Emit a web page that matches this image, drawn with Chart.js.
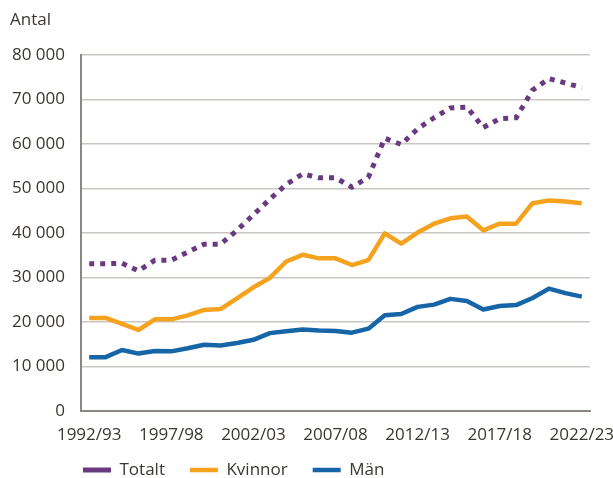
<!DOCTYPE html>
<html>
<head>
<meta charset="utf-8">
<script src="https://cdn.jsdelivr.net/npm/chart.js@4"></script>
<style>
  html, body { margin: 0; padding: 0; background: #ffffff; overflow: hidden; }
  #wrap { width: 613px; height: 478px; }
</style>
</head>
<body>
<div id="wrap"><canvas id="c" width="613" height="478"></canvas></div>
<script>
const categories = ['1992/93','1993/94','1994/95','1995/96','1996/97','1997/98','1998/99','1999/00','2000/01','2001/02',
  '2002/03','2003/04','2004/05','2005/06','2006/07','2007/08','2008/09','2009/10','2010/11','2011/12',
  '2012/13','2013/14','2014/15','2015/16','2016/17','2017/18','2018/19','2019/20','2020/21','2021/22','2022/23'];
const totalt = [33100, 33100, 33200, 31500, 33900, 33900, 35700, 37500, 37500, 40600,
  44100, 47600, 50900, 53300, 52400, 52400, 50300, 52500, 61300, 59900,
  63400, 65900, 68100, 68300, 63700, 65700, 65900, 72100, 74700, 73700, 72700];
const kvinnor = [20900, 20900, 19600, 18200, 20600, 20600, 21500, 22700, 22900, 25300,
  27800, 29900, 33600, 35100, 34300, 34300, 32800, 33900, 39900, 37600,
  40100, 42100, 43300, 43700, 40600, 42100, 42100, 46700, 47300, 47100, 46700];
const man = [12100, 12100, 13700, 12900, 13500, 13400, 14100, 14900, 14700, 15300,
  16000, 17500, 17900, 18300, 18100, 18000, 17600, 18500, 21500, 21800,
  23400, 23900, 25200, 24700, 22800, 23600, 23800, 25400, 27500, 26500, 25700];
const seriesNames = ['Totalt', 'Kvinnor', 'Män'];
const yTitle = 'Antal';
const yTicks = [0, 10000, 20000, 30000, 40000, 50000, 60000, 70000, 80000];

const TEXT = '#3b3631';
const FONT = "'Open Sans', sans-serif";
const LEGEND_PAD = 25;

const legendShift = {
  id: 'legendShift',
  beforeDraw(chart) {
    const lg = chart.legend;
    if (!lg) return;
    const dx = (83 - LEGEND_PAD) - lg.left;
    lg.left += dx; lg.right += dx;
    const dy = (470 - 8.5 - LEGEND_PAD) - lg.top;
    lg.top += dy; lg.bottom += dy;
  }
};

new Chart(document.getElementById('c'), {
  type: 'line',
  data: {
    labels: categories,
    datasets: [
      { label: seriesNames[0], data: totalt, borderColor: '#6a3a80', backgroundColor: '#6a3a80',
        borderWidth: 5, borderDash: [5, 6], borderCapStyle: 'butt', pointRadius: 0, tension: 0 },
      { label: seriesNames[1], data: kvinnor, borderColor: '#f5a31f', backgroundColor: '#f5a31f',
        borderWidth: 4.5, pointRadius: 0, tension: 0, borderJoinStyle: 'round' },
      { label: seriesNames[2], data: man, borderColor: '#1565a7', backgroundColor: '#1565a7',
        borderWidth: 4.5, pointRadius: 0, tension: 0, borderJoinStyle: 'round' }
    ]
  },
  options: {
    responsive: false,
    animation: false,
    layout: { padding: { left: 10, right: 0, top: 0, bottom: -21 } },
    plugins: {
      title: {
        display: true, text: yTitle, align: 'start', color: TEXT,
        font: { family: FONT, size: 17, weight: 'normal' },
        padding: { top: 10, bottom: 24.6 }
      },
      legend: {
        position: 'bottom', align: 'start',
        labels: {
          usePointStyle: true, pointStyle: 'line', pointStyleWidth: 28,
          color: TEXT, font: { family: FONT, size: 17 }, padding: LEGEND_PAD
        }
      },
      tooltip: { enabled: false }
    },
    scales: {
      x: {
        offset: true,
        grid: { display: false, drawTicks: false },
        border: { display: true, color: '#8c8782', width: 2 },
        afterFit(scale) { scale.height = 36; scale.paddingRight = 23; scale.paddingLeft = 0; },
        ticks: {
          autoSkip: false, maxRotation: 0, minRotation: 0, padding: 14,
          color: TEXT, font: { family: FONT, size: 17 },
          callback(v, i) { return i % 5 === 0 ? categories[i] : ''; }
        }
      },
      y: {
        min: 0, max: 80000,
        afterFit(scale) { scale.width = 71; },
        afterBuildTicks(scale) { scale.ticks = yTicks.map(v => ({ value: v })); },
        grid: { color: '#cac7c3', lineWidth: 1.5, drawTicks: false },
        border: { display: true, color: '#8c8782', width: 2 },
        ticks: {
          padding: 16, color: TEXT, font: { family: FONT, size: 17 },
          callback(v) { return String(v).replace(/\B(?=(\d{3})+(?!\d))/g, ' '); }
        }
      }
    }
  },
  plugins: [legendShift]
});
</script>
</body>
</html>
